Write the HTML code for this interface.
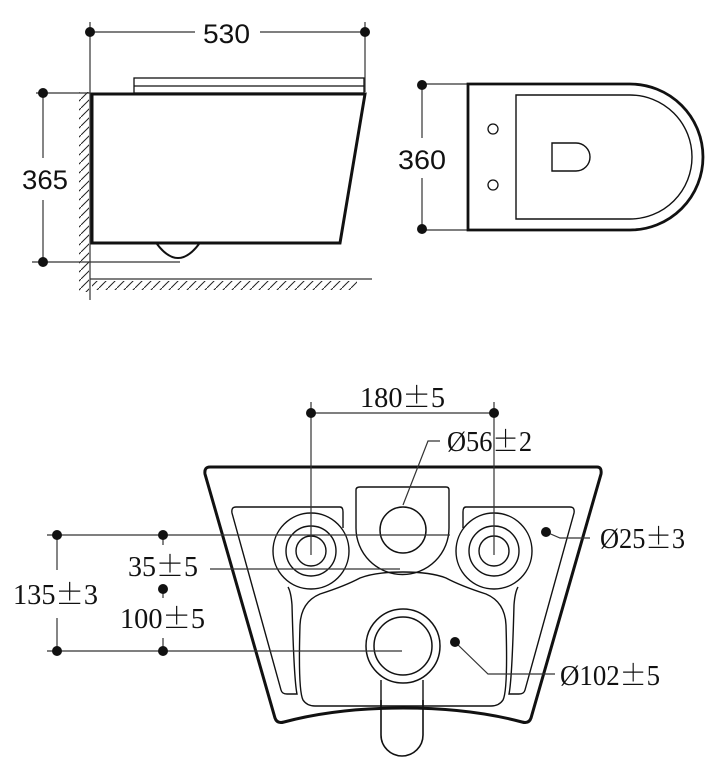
<!DOCTYPE html>
<html><head><meta charset="utf-8"><style>
html,body{margin:0;padding:0;background:#fff;}
svg{display:block;}
.s{font-family:"Liberation Sans",sans-serif;font-size:27px;fill:#111;}
.r{font-family:"Liberation Serif","Noto Serif CJK SC",serif;font-size:28px;fill:#111;}
.pm{font-family:"Noto Serif CJK SC","Noto Sans CJK SC",serif;}
</style></head><body>
<svg width="720" height="765" viewBox="0 0 720 765" xmlns="http://www.w3.org/2000/svg">
<defs>
<pattern id="h" width="9" height="9" patternUnits="userSpaceOnUse">
<line x1="0" y1="9" x2="9" y2="0" stroke="#222" stroke-width="1"/>
</pattern>
</defs>
<rect x="79" y="92" width="10" height="200" fill="url(#h)"/>
<rect x="92" y="281" width="265" height="9" fill="url(#h)"/>
<g fill="none" stroke="#111">
<rect x="134" y="78" width="230" height="15" stroke-width="1.3"/>
<line x1="134" y1="86" x2="364" y2="86" stroke-width="1.3"/>
<polygon points="92,94 365,94 340,243 92,243" stroke-width="3"/>
<path d="M157,244 Q178,272 199,244" stroke-width="2"/>
</g>
<g fill="none" stroke="#333" stroke-width="1.2">
<line x1="90" y1="22" x2="90" y2="300"/>
<line x1="365" y1="22" x2="365" y2="92"/>
<line x1="90" y1="32" x2="195" y2="32"/>
<line x1="260" y1="32" x2="365" y2="32"/>
<line x1="36" y1="93" x2="90" y2="93"/>
<line x1="32" y1="262" x2="180" y2="262"/>
<line x1="43" y1="93" x2="43" y2="158"/>
<line x1="43" y1="200" x2="43" y2="262"/>
<line x1="90" y1="279" x2="372" y2="279"/>
</g>
<g fill="#111">
<circle cx="90" cy="32" r="5"/><circle cx="365" cy="32" r="5"/>
<circle cx="43" cy="93" r="5"/><circle cx="43" cy="262" r="5"/>
</g>
<text class="s" x="203" y="43" textLength="47" lengthAdjust="spacingAndGlyphs">530</text>
<text class="s" x="22" y="189" textLength="46" lengthAdjust="spacingAndGlyphs">365</text>
<g fill="none" stroke="#333" stroke-width="1.2">
<line x1="418" y1="84" x2="467" y2="84"/>
<line x1="418" y1="230" x2="467" y2="230"/>
<line x1="422" y1="84" x2="422" y2="138"/>
<line x1="422" y1="178" x2="422" y2="230"/>
</g>
<g fill="#111"><circle cx="422" cy="85" r="5"/><circle cx="422" cy="229" r="5"/></g>
<text class="s" x="398" y="169" textLength="48" lengthAdjust="spacingAndGlyphs">360</text>
<g fill="none" stroke="#111">
<path d="M468,84 H630 A73,73 0 0 1 630,230 H468 Z" stroke-width="2.8"/>
<path d="M516,95 H630 A62,62 0 0 1 630,219 H516 Z" stroke-width="1.4"/>
<circle cx="493" cy="129" r="5" stroke-width="1.3"/>
<circle cx="493" cy="185" r="5" stroke-width="1.3"/>
<path d="M552,143 H576 A14,14 0 0 1 576,171 H552 Z" stroke-width="1.4"/>
</g>
<g fill="none" stroke="#111">
<path d="M381,700 V735 A21,21 0 0 0 423,735 V700" stroke-width="1.6"/>
<path d="M210,467 H597 Q602,467 601,474 L531,718 Q529,724 522,722 Q470,708 403,708 Q336,708 284,722 Q277,724 275,718 L205,474 Q204,467 210,467 Z" stroke-width="3"/>
<path d="M236,507 H340 Q343,507 343,512 V528 M236,507 Q231,507 232,513 L281,690 Q282,694 287,694 H297 Q294,680 292,605 Q291,592 288,587" stroke-width="1.4"/>
<path d="M570,507 H466 Q463,507 463,512 V528 M570,507 Q575,507 574,513 L525,690 Q524,694 519,694 H509 Q512,680 514,605 Q515,592 518,587" stroke-width="1.4"/>
<path d="M356,528 V490 Q356,487 360,487 H446 Q449,487 449,490 V528 A46,46 0 0 1 356,528" stroke-width="1.4"/>
<circle cx="403" cy="530" r="23" stroke-width="1.5"/>
<circle cx="311" cy="551" r="38" stroke-width="1.4"/>
<circle cx="311" cy="551" r="25" stroke-width="1.4"/>
<circle cx="311" cy="551" r="15" stroke-width="1.4"/>
<circle cx="494" cy="551" r="38" stroke-width="1.4"/>
<circle cx="494" cy="551" r="25" stroke-width="1.4"/>
<circle cx="494" cy="551" r="15" stroke-width="1.4"/>
<path d="M403,572 Q375,572 360,578 Q345,586 320,594 Q301,602 300,625 Q298,690 303,700 Q307,706 315,706 H491 Q499,706 503,700 Q508,690 506,625 Q505,602 486,594 Q461,586 446,578 Q431,572 403,572 Z" stroke-width="1.4"/>
<line x1="381" y1="680" x2="381" y2="706" stroke-width="1.4"/>
<line x1="423" y1="680" x2="423" y2="706" stroke-width="1.4"/>
<circle cx="403" cy="646" r="37" stroke-width="1.5"/>
<circle cx="403" cy="646" r="29" stroke-width="1.5"/>
</g>
<g fill="none" stroke="#333" stroke-width="1.2">
<line x1="311" y1="402" x2="311" y2="555"/>
<line x1="494" y1="402" x2="494" y2="555"/>
<line x1="311" y1="413" x2="494" y2="413"/>
<polyline points="440,441 428,441 403,505"/>
<line x1="47" y1="535" x2="450" y2="535"/>
<line x1="210" y1="569" x2="400" y2="569"/>
<line x1="47" y1="651" x2="402" y2="651"/>
<line x1="57" y1="535" x2="57" y2="570"/>
<line x1="57" y1="618" x2="57" y2="651"/>
<line x1="163" y1="535" x2="163" y2="545"/>
<line x1="163" y1="590" x2="163" y2="598"/>
<line x1="163" y1="638" x2="163" y2="651"/>
<polyline points="546,532 560,538 590,538"/>
<polyline points="455,642 488,674 555,674"/>
</g>
<g fill="#111">
<circle cx="311" cy="413" r="5"/><circle cx="494" cy="413" r="5"/>
<circle cx="57" cy="535" r="5"/><circle cx="163" cy="535" r="5"/>
<circle cx="163" cy="589" r="5"/>
<circle cx="57" cy="651" r="5"/><circle cx="163" cy="651" r="5"/>
<circle cx="546" cy="532" r="5"/><circle cx="455" cy="642" r="5"/>
</g>
<text class="r" x="360" y="407" textLength="85" lengthAdjust="spacingAndGlyphs">180<tspan class="pm">±</tspan>5</text>
<text class="r" x="447" y="451" textLength="85" lengthAdjust="spacingAndGlyphs">Ø56<tspan class="pm">±</tspan>2</text>
<text class="r" x="128" y="576" textLength="70" lengthAdjust="spacingAndGlyphs">35<tspan class="pm">±</tspan>5</text>
<text class="r" x="120" y="628" textLength="85" lengthAdjust="spacingAndGlyphs">100<tspan class="pm">±</tspan>5</text>
<text class="r" x="13" y="604" textLength="85" lengthAdjust="spacingAndGlyphs">135<tspan class="pm">±</tspan>3</text>
<text class="r" x="600" y="548" textLength="85" lengthAdjust="spacingAndGlyphs">Ø25<tspan class="pm">±</tspan>3</text>
<text class="r" x="560" y="685" textLength="100" lengthAdjust="spacingAndGlyphs">Ø102<tspan class="pm">±</tspan>5</text>
</svg>
</body></html>
